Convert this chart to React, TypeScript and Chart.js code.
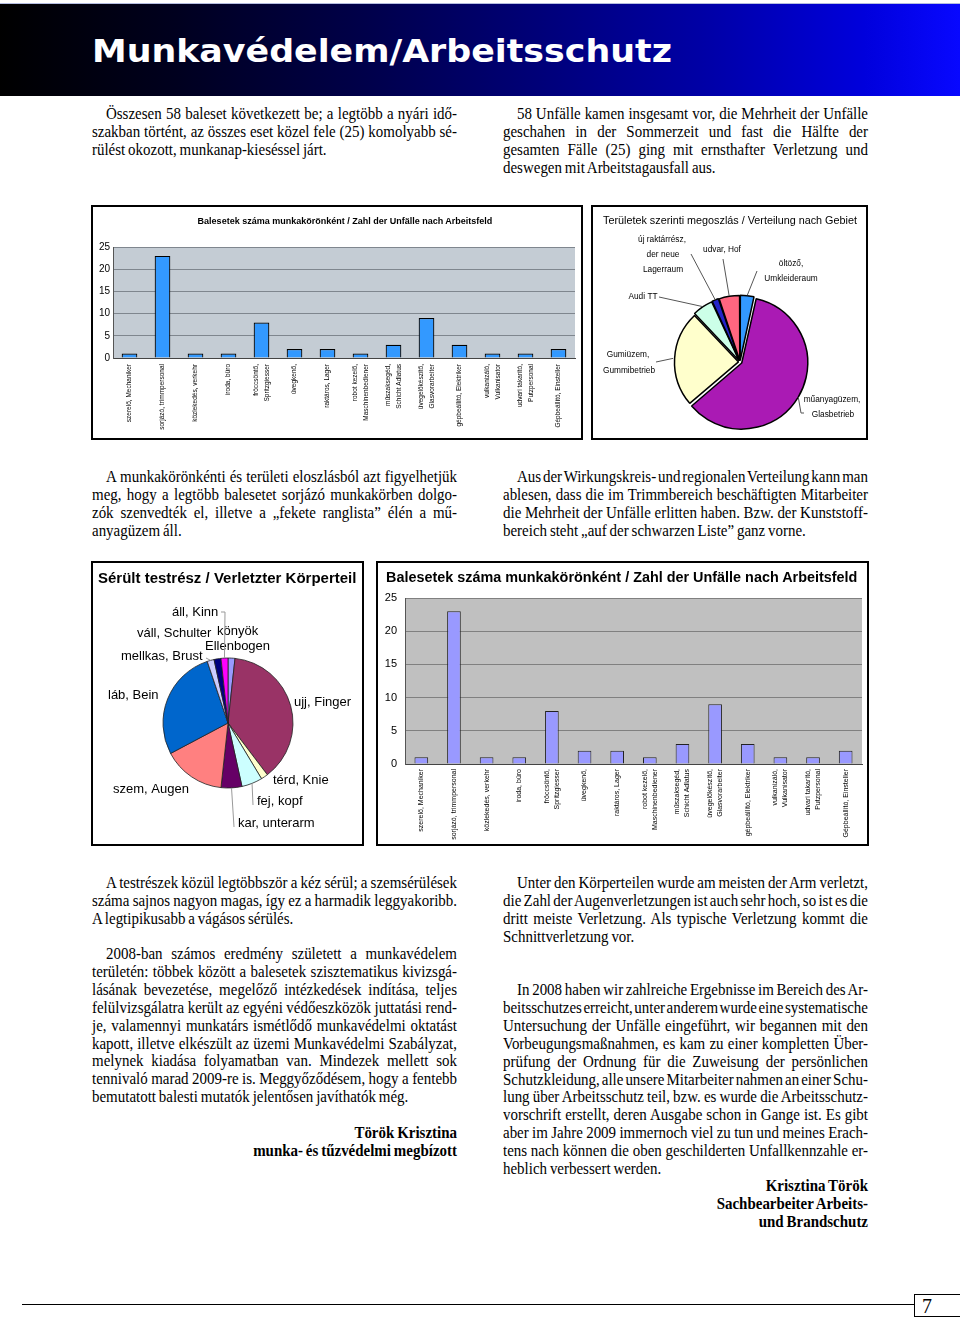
import React, { useEffect, useRef } from 'react';
import { Chart, registerables } from 'chart.js';

Chart.register(...registerables);

// ---------------- data ----------------
const jobCategories: (string | string[])[] = [
  'szerelő, Mechaniker',
  'sorjázó, trimmpersonal',
  'közlekedés, verkehr',
  'iroda, büro',
  ['fröccsöntő,', 'Spritzgiesser'],
  'üvegkenő,',
  'raktáros, Lager',
  ['robot kezelő,', 'Maschinenbediener'],
  ['műszaksegéd,', 'Schicht Adlatus'],
  ['üvegelőkészítő,', 'Glasvorarbeiter'],
  'gépbeállító, Elektriker',
  ['vulkanizáló,', 'Vulkanisator'],
  ['udvari takarító,', 'Putzpersonal'],
  'Gépbeállító, Einsteller',
];
const jobAccidents = [1, 23, 1, 1, 8, 2, 2, 1, 3, 9, 3, 1, 1, 2];
const accidentAxisMax = 25;
const accidentAxisStep = 5;

const areaCategories = [
  'öltöző, Umkleideraum',
  'műanyagüzem, Glasbetrieb',
  'Gumiüzem, Gummibetrieb',
  'Audi TT',
  'új raktárrész, der neue Lagerraum',
  'udvar, Hof',
];
const areaAccidents = [2, 35, 14, 3, 1, 3];

const bodyCategories = [
  'könyök, Ellenbogen',
  'ujj, Finger',
  'térd, Knie',
  'fej, kopf',
  'kar, unterarm',
  'szem, Augen',
  'láb, Bein',
  'mellkas, Brust',
  'váll, Schulter',
  'áll, Kinn',
];
const bodyInjuries = [1, 22, 1, 3, 3, 9, 16, 1, 1, 1];

// ---------------- styles ----------------
const SANS = '"Liberation Sans", Arial, sans-serif';
const SERIF = '"Liberation Serif", "Times New Roman", serif';

const areaColors = ['#3399ff', '#aa1ab4', '#ffffcc', '#ccffe8', '#2424c8', '#ff6680'];
const areaOffsets = [6, 8, 6, 6, 6, 6];
const bodyColors = ['#9999ff', '#993366', '#ffffcc', '#ccffff', '#660066', '#ff8080', '#0066cc', '#ccccff', '#000080', '#ff00ff'];

type PieText = { t: string; dx: number; dy: number };
type PieLabel = { align: CanvasTextAlign; texts: PieText[]; leader?: [number, number][] };

// label annotation layout (relative to pie centre)
const areaLabelLayout: PieLabel[] = [
  { align: 'center', texts: [{ t: 'öltöző,', dx: 51, dy: -98 }, { t: 'Umkleideraum', dx: 51, dy: -83 }], leader: [[17, -91]] },
  { align: 'center', texts: [{ t: 'műanyagüzem,', dx: 92, dy: 38 }, { t: 'Glasbetrieb', dx: 93, dy: 53 }], leader: [[61, 51], [64, 51]] },
  { align: 'center', texts: [{ t: 'Gumiüzem,', dx: -112, dy: -7 }, { t: 'Gummibetrieb', dx: -111, dy: 9 }], leader: [[-84, 0]] },
  { align: 'center', texts: [{ t: 'Audi TT', dx: -97, dy: -65 }], leader: [[-81, -65]] },
  { align: 'center', texts: [{ t: 'új raktárrész,', dx: -78, dy: -122 }, { t: 'der neue', dx: -77, dy: -107 }, { t: 'Lagerraum', dx: -77, dy: -92 }], leader: [[-49, -108]] },
  { align: 'center', texts: [{ t: 'udvar, Hof', dx: -18, dy: -112 }], leader: [[-17, -103]] },
];

const bodyLabelLayout: PieLabel[] = [
  { align: 'left', texts: [{ t: 'könyök', dx: -11, dy: -92 }, { t: 'Ellenbogen', dx: -23, dy: -77 }] },
  { align: 'left', texts: [{ t: 'ujj, Finger', dx: 66, dy: -21 }] },
  { align: 'left', texts: [{ t: 'térd, Knie', dx: 45, dy: 57 }] },
  { align: 'left', texts: [{ t: 'fej, kopf', dx: 29, dy: 78 }], leader: [[25, 82]] },
  { align: 'left', texts: [{ t: 'kar, unterarm', dx: 10, dy: 100 }], leader: [[6, 104]] },
  { align: 'left', texts: [{ t: 'szem, Augen', dx: -115, dy: 66 }] },
  { align: 'left', texts: [{ t: 'láb, Bein', dx: -120, dy: -28 }] },
  { align: 'left', texts: [{ t: 'mellkas, Brust', dx: -107, dy: -67 }], leader: [[-22, -65]] },
  { align: 'left', texts: [{ t: 'váll, Schulter', dx: -91, dy: -90 }] },
  { align: 'left', texts: [{ t: 'áll, Kinn', dx: -56, dy: -111 }], leader: [[-3, -111], [-7, -111]] },
];

// ---------------- plugins ----------------
function makePlotBg(color: string) {
  return {
    id: 'plotBg',
    beforeDraw(chart: any) {
      const { ctx, chartArea } = chart;
      if (!chartArea) return;
      ctx.save();
      ctx.fillStyle = color;
      ctx.fillRect(chartArea.left, chartArea.top, chartArea.right - chartArea.left, chartArea.bottom - chartArea.top);
      ctx.restore();
    },
  };
}

function makeXLabels(labels: (string | string[])[], font: string, lineGap: number, pad: number) {
  return {
    id: 'xLabels',
    afterDraw(chart: any) {
      const xs = chart.scales.x;
      const ctx = chart.ctx;
      const y0 = chart.chartArea.bottom + pad;
      ctx.save();
      ctx.font = font;
      ctx.fillStyle = '#000';
      ctx.textAlign = 'right';
      ctx.textBaseline = 'middle';
      labels.forEach((lab, i) => {
        const lines = Array.isArray(lab) ? lab : [lab];
        const cx = xs.getPixelForValue(i);
        lines.forEach((ln, k) => {
          const x = cx + (k - (lines.length - 1) / 2) * lineGap;
          ctx.save();
          ctx.translate(x, y0);
          ctx.rotate(-Math.PI / 2);
          ctx.fillText(ln, 0, 0);
          ctx.restore();
        });
      });
      ctx.restore();
    },
  };
}

function makePieLabels(layout: PieLabel[], font: string, leaderColor: string) {
  return {
    id: 'pieLabels',
    afterDatasetsDraw(chart: any) {
      const meta = chart.getDatasetMeta(0);
      const ctx = chart.ctx;
      ctx.save();
      ctx.font = font;
      ctx.fillStyle = '#000';
      ctx.strokeStyle = leaderColor;
      ctx.lineWidth = 1;
      ctx.textBaseline = 'middle';
      layout.forEach((lab, i) => {
        const arc = meta.data[i];
        if (!arc) return;
        const p = arc.getProps(['x', 'y', 'startAngle', 'endAngle', 'outerRadius'], true);
        const off = ((arc.options && arc.options.offset) || 0) / 4;
        const mid = (p.startAngle + p.endAngle) / 2;
        const r = p.outerRadius + off * 2;
        if (lab.leader) {
          ctx.beginPath();
          ctx.moveTo(p.x + Math.cos(mid) * r, p.y + Math.sin(mid) * r);
          lab.leader.forEach(([dx, dy]) => ctx.lineTo(p.x + dx, p.y + dy));
          ctx.stroke();
        }
        ctx.textAlign = lab.align;
        lab.texts.forEach((tx) => ctx.fillText(tx.t, p.x + tx.dx, p.y + tx.dy));
      });
      ctx.restore();
    },
  };
}

// ---------------- chart components ----------------
type BarCfg = {
  w: number; h: number; padTop: number; padRight: number; yWidth: number; xHeight: number;
  bg: string; grid: string; bar: string; barBorder: string; barBorderWidth: number;
  catPct: number; barPct: number; xFont: string; xGap: number; xPad: number; yFontSize: number; yPad: number;
};

function BarChart({ cfg }: { cfg: BarCfg }) {
  const ref = useRef<HTMLCanvasElement>(null);
  useEffect(() => {
    const chart = new Chart(ref.current as HTMLCanvasElement, {
      type: 'bar',
      data: {
        labels: jobCategories as any,
        datasets: [
          {
            data: jobAccidents,
            backgroundColor: cfg.bar,
            borderColor: cfg.barBorder,
            borderWidth: cfg.barBorderWidth,
            categoryPercentage: cfg.catPct,
            barPercentage: cfg.barPct,
          },
        ],
      },
      options: {
        responsive: false,
        animation: false,
        devicePixelRatio: 1,
        layout: { padding: { top: cfg.padTop, right: cfg.padRight, left: 0, bottom: 0 } },
        plugins: { legend: { display: false }, tooltip: { enabled: false }, title: { display: false } },
        scales: {
          x: {
            grid: { display: false, drawTicks: false },
            border: { color: '#444', width: 1 },
            ticks: { display: false, autoSkip: false },
            afterFit: (s: any) => { s.height = cfg.xHeight; },
          },
          y: {
            min: 0,
            max: accidentAxisMax,
            ticks: { stepSize: accidentAxisStep, padding: cfg.yPad, color: '#000', font: { family: SANS, size: cfg.yFontSize } },
            grid: { color: cfg.grid, drawTicks: false, lineWidth: 1 },
            border: { color: '#555', width: 1 },
            afterFit: (s: any) => { s.width = cfg.yWidth; },
          },
        },
      } as any,
      plugins: [makePlotBg(cfg.bg), makeXLabels(jobCategories, cfg.xFont, cfg.xGap, cfg.xPad)],
    });
    return () => chart.destroy();
  }, []);
  return <canvas ref={ref} width={cfg.w} height={cfg.h} style={{ display: 'block' }} />;
}

type PieCfg = {
  w: number; h: number; pad: { left: number; right: number; top: number; bottom: number };
  radius: number; labels: string[]; values: number[]; colors: string[]; offsets: number[] | number;
  borderColor: string; borderWidth: number; layout: PieLabel[]; font: string; leaderColor: string;
};

function PieChart({ cfg }: { cfg: PieCfg }) {
  const ref = useRef<HTMLCanvasElement>(null);
  useEffect(() => {
    const chart = new Chart(ref.current as HTMLCanvasElement, {
      type: 'pie',
      data: {
        labels: cfg.labels,
        datasets: [
          {
            data: cfg.values,
            backgroundColor: cfg.colors,
            borderColor: cfg.borderColor,
            borderWidth: cfg.borderWidth,
            offset: cfg.offsets as any,
            clip: false as any,
          },
        ],
      },
      options: {
        responsive: false,
        animation: false,
        devicePixelRatio: 1,
        radius: cfg.radius,
        layout: { padding: cfg.pad },
        plugins: { legend: { display: false }, tooltip: { enabled: false }, title: { display: false } },
      } as any,
      plugins: [makePieLabels(cfg.layout, cfg.font, cfg.leaderColor)],
    });
    return () => chart.destroy();
  }, []);
  return <canvas ref={ref} width={cfg.w} height={cfg.h} style={{ display: 'block' }} />;
}

// ---------------- text helpers ----------------
const TX_SCALE = 0.88;
const TX_SIZE = 17;
const TX_LH = 17.85;
const TX_ASC = 14.66;
const TX_WORD_JUST = -4;
const TX_WORD_LAST = -1;

function Para({ x, baseline, w, lines, indent = 14 }: { x: number; baseline: number; w: number; lines: string[]; indent?: number }) {
  return (
    <div
      style={{
        position: 'absolute', left: x, top: baseline - TX_ASC, width: w / TX_SCALE,
        transform: `scaleX(${TX_SCALE})`, transformOrigin: '0 0',
        fontFamily: SERIF, fontSize: TX_SIZE, lineHeight: `${TX_LH}px`, color: '#000',
      }}
    >
      {lines.map((ln, i) => {
        const just = i < lines.length - 1;
        return (
          <div
            key={i}
            style={{
              height: TX_LH,
              textAlign: just ? 'justify' : 'left',
              textAlignLast: just ? 'justify' : 'left',
              textIndent: i === 0 ? indent / TX_SCALE : 0,
              wordSpacing: just ? TX_WORD_JUST : TX_WORD_LAST,
            } as any}
          >
            {ln}
          </div>
        );
      })}
    </div>
  );
}

function Sig({ right, baseline, lines }: { right: number; baseline: number; lines: string[] }) {
  const W = 420;
  return (
    <div
      style={{
        position: 'absolute', left: right - W, top: baseline - TX_ASC, width: W,
        transform: `scaleX(${TX_SCALE})`, transformOrigin: '100% 0',
        fontFamily: SERIF, fontSize: TX_SIZE, fontWeight: 'bold', lineHeight: `${TX_LH}px`, textAlign: 'right', color: '#000',
        wordSpacing: -1,
      }}
    >
      {lines.map((ln, i) => (
        <div key={i} style={{ height: TX_LH, whiteSpace: 'nowrap' }}>{ln}</div>
      ))}
    </div>
  );
}

function Label({ x, y, text, size, bold = false, align = 'left' }: { x: number; y: number; text: string; size: number; bold?: boolean; align?: 'left' | 'center' }) {
  const lh = Math.round(size * 1.3);
  const width = 600;
  return (
    <div
      style={{
        position: 'absolute', left: align === 'center' ? x - width / 2 : x, top: y - lh / 2, width,
        textAlign: align, fontFamily: SANS, fontSize: size, fontWeight: bold ? 'bold' : 'normal',
        lineHeight: `${lh}px`, whiteSpace: 'nowrap', color: '#000',
      }}
    >
      {text}
    </div>
  );
}

function Box({ x, y, w, h, children }: { x: number; y: number; w: number; h: number; children?: React.ReactNode }) {
  return (
    <div style={{ position: 'absolute', left: x, top: y, width: w, height: h, boxSizing: 'border-box', border: '2px solid #000', background: '#fff' }}>
      {children}
    </div>
  );
}

// ---------------- chart configs ----------------
const topBarCfg: BarCfg = {
  w: 488, h: 231, padTop: 40, padRight: 6, yWidth: 20, xHeight: 80,
  bg: '#c4ccd4', grid: '#7f868e', bar: '#3399ff', barBorder: '#000', barBorderWidth: 1.2,
  catPct: 0.5, barPct: 0.95, xFont: `6.5px ${SANS}`, xGap: 11, xPad: 6, yFontSize: 10, yPad: 3,
};

const bottomBarCfg: BarCfg = {
  w: 489, h: 281, padTop: 35, padRight: 5, yWidth: 27, xHeight: 80,
  bg: '#c0c0c0', grid: '#808080', bar: '#9999ff', barBorder: '#222', barBorderWidth: 1,
  catPct: 0.45, barPct: 0.93, xFont: `7px ${SANS}`, xGap: 10, xPad: 5, yFontSize: 11, yPad: 8,
};

const areaPieCfg: PieCfg = {
  w: 273, h: 231, pad: { left: 75, right: 54, top: 83, bottom: 4 }, radius: 64,
  labels: areaCategories, values: areaAccidents, colors: areaColors, offsets: areaOffsets,
  borderColor: '#000', borderWidth: 1.5, layout: areaLabelLayout, font: `8.3px ${SANS}`, leaderColor: '#555',
};

const bodyPieCfg: PieCfg = {
  w: 269, h: 281, pad: { left: 67, right: 66, top: 92, bottom: 53 }, radius: 65,
  labels: bodyCategories, values: bodyInjuries, colors: bodyColors, offsets: 0,
  borderColor: '#222', borderWidth: 0.8, layout: bodyLabelLayout, font: `13px ${SANS}`, leaderColor: '#999',
};

// ---------------- page ----------------
export default function App() {
  return (
    <div style={{ position: 'absolute', left: 0, top: 0, width: 960, height: 1320, overflow: 'hidden', background: '#fff' }}>
      {/* header band */}
      <div style={{ position: 'absolute', left: 0, top: 3, width: 960, height: 1, background: '#b4bce0' }} />
      <div
        style={{
          position: 'absolute', left: 0, top: 4, width: 960, height: 92,
          background: 'linear-gradient(90deg, #000000 0%, #00001e 18%, #00004a 38%, #000078 56%, #0000a8 74%, #0000dc 90%, #0808ff 100%)',
        }}
      />
      <div
        style={{
          position: 'absolute', left: 92, top: 31, lineHeight: '40px', fontSize: 31.5, fontWeight: 'bold',
          fontFamily: '"DejaVu Sans", Verdana, sans-serif', color: '#fff', whiteSpace: 'nowrap',
          transform: 'scaleX(1.105)', transformOrigin: '0 0',
        }}
      >
        Munkavédelem/Arbeitsschutz
      </div>

      {/* intro paragraphs */}
      <Para x={92} baseline={120} w={365} lines={[
        'Összesen 58 baleset következett be; a legtöbb a nyári idő-',
        'szakban történt, az összes eset közel fele (25) komolyabb sé-',
        'rülést okozott, munkanap-kieséssel járt.',
      ]} />
      <Para x={503} baseline={120} w={365} lines={[
        '58 Unfälle kamen insgesamt vor, die Mehrheit der Unfälle',
        'geschahen in der Sommerzeit und fast die Hälfte der',
        'gesamten Fälle (25) ging mit ernsthafter Verletzung und',
        'deswegen mit Arbeitstagausfall aus.',
      ]} />

      {/* top charts */}
      <Box x={91} y={205} w={492} h={235}>
        <BarChart cfg={topBarCfg} />
      </Box>
      <Label x={345} y={221} text="Balesetek száma munkakörönként / Zahl der Unfälle nach Arbeitsfeld" size={9} bold align="center" />

      <Box x={591} y={205} w={277} h={235}>
        <PieChart cfg={areaPieCfg} />
      </Box>
      <Label x={730} y={220} text="Területek szerinti megoszlás / Verteilung nach Gebiet" size={10.8} align="center" />

      {/* middle paragraphs */}
      <Para x={92} baseline={483} w={365} lines={[
        'A munkakörönkénti és területi eloszlásból azt figyelhetjük',
        'meg, hogy a legtöbb balesetet sorjázó munkakörben dolgo-',
        'zók szenvedték el, illetve a „fekete ranglista” élén a mű-',
        'anyagüzem áll.',
      ]} />
      <Para x={503} baseline={483} w={365} lines={[
        'Aus der Wirkungskreis- und regionalen Verteilung kann man',
        'ablesen, dass die im Trimmbereich beschäftigten Mitarbeiter',
        'die Mehrheit der Unfälle erlitten haben. Bzw. der Kunststoff-',
        'bereich steht „auf der schwarzen Liste” ganz vorne.',
      ]} />

      {/* bottom charts */}
      <Box x={91} y={561} w={273} h={285}>
        <PieChart cfg={bodyPieCfg} />
      </Box>
      <Label x={98} y={578} text="Sérült testrész / Verletzter Körperteil" size={15} bold />

      <Box x={376} y={561} w={493} h={285}>
        <BarChart cfg={bottomBarCfg} />
      </Box>
      <Label x={386} y={577} text="Balesetek száma munkakörönként / Zahl der Unfälle nach Arbeitsfeld" size={14.4} bold />

      {/* lower text, left */}
      <Para x={92} baseline={889} w={365} lines={[
        'A testrészek közül legtöbbször a kéz sérül; a szemsérülések',
        'száma sajnos nagyon magas, így ez a harmadik leggyakoribb.',
        'A legtipikusabb a vágásos sérülés.',
      ]} />
      <Para x={92} baseline={960} w={365} lines={[
        '2008-ban számos eredmény született a munkavédelem',
        'területén: többek között a balesetek szisztematikus kivizsgá-',
        'lásának bevezetése, megelőző intézkedések indítása, teljes',
        'felülvizsgálatra került az egyéni védőeszközök juttatási rend-',
        'je, valamennyi munkatárs ismétlődő munkavédelmi oktatást',
        'kapott, illetve elkészült az üzemi Munkavédelmi Szabályzat,',
        'melynek kiadása folyamatban van. Mindezek mellett sok',
        'tennivaló marad 2009-re is. Meggyőződésem, hogy a fentebb',
        'bemutatott balesti mutatók jelentősen javíthatók még.',
      ]} />
      <Sig right={457} baseline={1139} lines={['Török Krisztina', 'munka- és tűzvédelmi megbízott']} />

      {/* lower text, right */}
      <Para x={503} baseline={889} w={365} lines={[
        'Unter den Körperteilen wurde am meisten der Arm verletzt,',
        'die Zahl der Augenverletzungen ist auch sehr hoch, so ist es die',
        'dritt meiste Verletzung. Als typische Verletzung kommt die',
        'Schnittverletzung vor.',
      ]} />
      <Para x={503} baseline={996} w={365} lines={[
        'In 2008 haben wir zahlreiche Ergebnisse im Bereich des Ar-',
        'beitsschutzes erreicht, unter anderem wurde eine systematische',
        'Untersuchung der Unfälle eingeführt, wir begannen mit den',
        'Vorbeugungsmaßnahmen, es kam zu einer kompletten Über-',
        'prüfung der Ordnung für die Zuweisung der persönlichen',
        'Schutzkleidung, alle unsere Mitarbeiter nahmen an einer Schu-',
        'lung über Arbeitsschutz teil, bzw. es wurde die Arbeitsschutz-',
        'vorschrift erstellt, deren Ausgabe schon in Gange ist. Es gibt',
        'aber im Jahre 2009 immernoch viel zu tun und meines Erach-',
        'tens nach können die oben geschilderten Unfallkennzahle er-',
        'heblich verbessert werden.',
      ]} />
      <Sig right={868} baseline={1192} lines={['Krisztina Török', 'Sachbearbeiter Arbeits-', 'und Brandschutz']} />

      {/* footer */}
      <div style={{ position: 'absolute', left: 22, top: 1304, width: 892, height: 0, borderTop: '1.5px solid #000' }} />
      <div style={{ position: 'absolute', left: 914, top: 1294, width: 60, height: 23, boxSizing: 'border-box', border: '1.5px solid #000' }} />
      <div style={{ position: 'absolute', left: 922, top: 1294, fontFamily: SERIF, fontSize: 20, lineHeight: '24px', color: '#000' }}>7</div>
    </div>
  );
}
